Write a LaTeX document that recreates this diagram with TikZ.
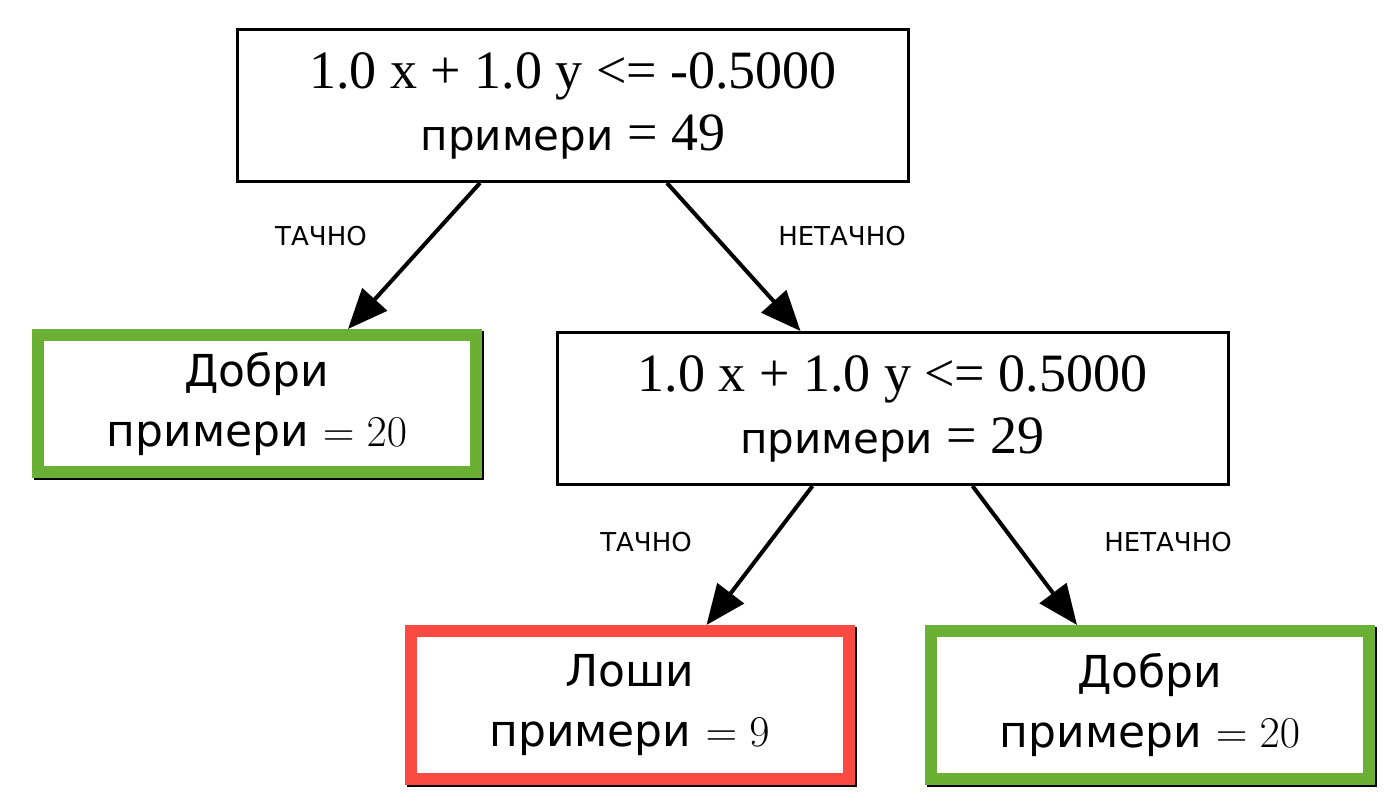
\RequirePackage{fix-cm}
\documentclass[tikz,border=0pt]{standalone}
\usepackage[no-math]{fontspec}
\setmainfont{Liberation Serif}
\newfontfamily\cyr{DejaVu Sans}
\usetikzlibrary{arrows.meta,shadows}
\definecolor{leafgreen}{RGB}{106,176,52}
\definecolor{leafred}{RGB}{251,74,65}

\begin{document}
\begin{tikzpicture}[x=1pt,y=-1pt,
                    split node/.style={rectangle,draw,line width=3pt,align=center,
                      minimum width=671pt,minimum height=152pt,
                      font=\fontsize{54}{62}\selectfont},
                    leaf node/.style={rectangle,fill=white,line width=12pt,align=center,
                      minimum width=438pt,
                      font=\cyr\fontsize{44}{60}\selectfont,
                      general shadow={shadow xshift=2pt,shadow yshift=-2pt,
                        draw=black,line width=12pt}},
                    answer/.style={font=\cyr\fontsize{26}{26}\selectfont},
                    branch/.style={line width=4pt,-{Triangle[length=40pt,width=33pt]}}]
  \useasboundingbox (0,0) rectangle (1395,810);

  \node[split node] (root) at (573,105.5)
    {1.0 x + 1.0 y <= -0.5000\\{\cyr\fontsize{42}{62}\selectfont примери} = 49};
  \node[leaf node,draw=leafgreen,minimum height=137pt] (good1) at (257,403.5)
    {Добри\\примери $= 20$};
  \node[split node] (split2) at (892.5,408.5)
    {1.0 x + 1.0 y <= 0.5000\\{\cyr\fontsize{42}{62}\selectfont примери} = 29};
  \node[leaf node,draw=leafred,minimum height=148pt] (bad) at (629.5,705)
    {Лоши\\примери $= 9$};
  \node[leaf node,draw=leafgreen,minimum height=148pt] (good2) at (1150,705)
    {Добри\\примери $= 20$};

  % branch labels
  \node[answer] (yes1) at (321,236) {ТАЧНО};
  \node[answer] (no1) at (842,236) {НЕТАЧНО};
  \node[answer] (yes2) at (646,542) {ТАЧНО};
  \node[answer] (no2) at (1168,542) {НЕТАЧНО};

  \path[branch]
    ([xshift=-93pt]root.south) edge ([xshift=91pt]good1.north)
    ([xshift=94pt]root.south) edge ([xshift=-92pt]split2.north)
    ([xshift=-80pt]split2.south) edge ([xshift=77pt]bad.north)
    ([xshift=80pt]split2.south) edge ([xshift=-73pt]good2.north);
\end{tikzpicture}
\end{document}
